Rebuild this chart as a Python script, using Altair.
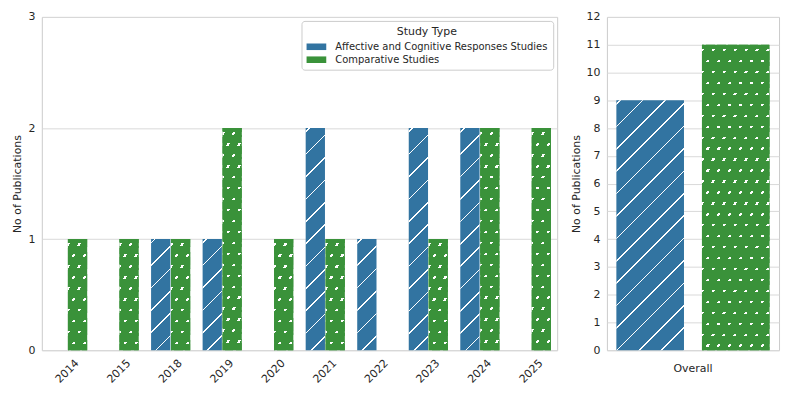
import math
import altair as alt
import pandas as pd

# ---------------- data ----------------
years = ["2014", "2015", "2018", "2019", "2020", "2021", "2022", "2023", "2024", "2025"]
affective = [0, 0, 1, 1, 0, 2, 1, 2, 2, 0]
comparative = [1, 1, 1, 2, 1, 1, 0, 1, 2, 2]
study_types = ["Affective and Cognitive Responses Studies", "Comparative Studies"]
overall_label = ["Overall"]
overall_values = [9, 11]
palette = ["#3274a1", "#3a923a"]

# ---------------- layout / style ----------------
LEFT_W, RIGHT_W, PLOT_H = 518, 173, 335
LEFT_YMAX, RIGHT_YMAX = 3, 12
TXT = "#262626"
CLEAR = "rgba(255,255,255,0)"
FONT = "DejaVu Sans"

L_PI, L_PO, L_OFF_PI = 0.24, 0.12, 0.03
R_PI, R_PO, R_OFF_PI = 0.0, 0.0617, 0.21

rows = []
for yr, a, c in zip(years, affective, comparative):
    if a:
        rows.append({"year": yr, "type": study_types[0], "n": a})
    if c:
        rows.append({"year": yr, "type": study_types[1], "n": c})
left_df = pd.DataFrame(rows)
right_df = pd.DataFrame({"label": overall_label * 2, "type": study_types, "n": overall_values})


def bar_width(total, count, pi, po, off_pi):
    step = total / (count - pi + 2 * po)
    band = step * (1 - pi)
    step2 = band / (2 - off_pi)
    return step2 * (1 - off_pi)


def stripes(w, h, a, b, period, half, line, bg, phase=0.0):
    """Hard-stop linear gradient drawing stripes along a*x + b*y = const (pixels)."""
    corners = [(0.0, 0.0), (1.0, 0.0), (0.0, 1.0), (1.0, 1.0)]
    fv = [a * w * u + b * h * v for u, v in corners]
    fmin, fmax = min(fv), max(fv)
    u0, v0 = corners[fv.index(fmin)]
    span = fmax - fmin
    S = (a * w) ** 2 + (b * h) ** 2
    k = span / S
    x2 = u0 + k * a * w
    y2 = v0 + k * b * h
    stops = [(0.0, bg)]
    n = math.floor((fmin - phase - half) / period)
    while True:
        center = phase + n * period
        lo = (center - half - fmin) / span
        hi = (center + half - fmin) / span
        n += 1
        if hi <= 0:
            continue
        if lo >= 1:
            break
        lo, hi = max(lo, 0.0), min(hi, 1.0)
        stops += [(lo, bg), (lo, line), (hi, line), (hi, bg)]
    stops.append((1.0, bg))
    return alt.LinearGradient(
        gradient="linear", x1=u0, y1=v0, x2=x2, y2=y2,
        stops=[alt.GradientStop(color=col, offset=round(off, 5)) for off, col in stops],
    )


def panel(df, xfield, xscale, xaxis, off_pi, ymax, yvalues, width, barw, legend):
    enc = dict(
        x=alt.X(f"{xfield}:N", scale=xscale, axis=xaxis),
        xOffset=alt.XOffset("type:N", scale=alt.Scale(domain=study_types, paddingInner=off_pi, paddingOuter=0)),
        y=alt.Y("n:Q", scale=alt.Scale(domain=[0, ymax], nice=False),
                axis=alt.Axis(title="No of Publications", values=yvalues, grid=True,
                              labelPadding=7, titlePadding=5)),
    )
    base = alt.Chart(df).mark_bar().encode(
        **enc,
        color=alt.Color("type:N", scale=alt.Scale(domain=study_types, range=palette), legend=legend),
    )
    layers = [base]
    # blue: diagonal hatch
    for val in sorted(df[df["type"] == study_types[0]]["n"].unique()):
        h = val * PLOT_H / ymax
        g = stripes(barw, h, 1.0, 1.0, 22.5, 0.8, "white", CLEAR, phase=4.0)
        layers.append(
            alt.Chart(df).transform_filter(
                f"datum.type == '{study_types[0]}' && datum.n == {val}"
            ).mark_bar(fill=g).encode(**enc)
        )
    # green: staggered dots (horizontal white lines under slanted slits)
    for val in sorted(df[df["type"] == study_types[1]]["n"].unique()):
        h = val * PLOT_H / ymax
        gA = stripes(barw, h, 0.0, 1.0, 11.0, 1.2, "white", CLEAR, phase=5.5)
        gB = stripes(barw, h, 1.0, 0.5, 11.0, 1.3, CLEAR, palette[1], phase=3.0)
        flt = f"datum.type == '{study_types[1]}' && datum.n == {val}"
        layers.append(alt.Chart(df).transform_filter(flt).mark_bar(fill=gA).encode(**enc))
        layers.append(alt.Chart(df).transform_filter(flt).mark_bar(fill=gB).encode(**enc))
    return alt.layer(*layers).properties(width=width, height=PLOT_H)


left_barw = bar_width(LEFT_W, len(years), L_PI, L_PO, L_OFF_PI)
right_barw = bar_width(RIGHT_W, 1, R_PI, R_PO, R_OFF_PI)

legend = alt.Legend(
    title="Study Type", orient="top-right", offset=4,
    titleAnchor="middle", titleAlign="center", titleFontSize=11, titleFontWeight="normal",
    titleColor=TXT, titleFont=FONT, titlePadding=4,
    labelFont=FONT, labelFontSize=10, labelColor=TXT, labelLimit=400, labelOffset=13,
    symbolType="M-1.65,-0.55H1.65V0.55H-1.65Z", symbolSize=144, symbolStrokeWidth=0,
    symbolOffset=4,
    strokeColor="#cccccc", fillColor="white", padding=5, cornerRadius=3, rowPadding=2,
)

left = panel(
    left_df, "year",
    alt.Scale(domain=years, paddingInner=L_PI, paddingOuter=L_PO),
    alt.Axis(title=None, labelAngle=-45, labelAlign="center", labelBaseline="middle",
             labelPadding=21, grid=False),
    L_OFF_PI, LEFT_YMAX, list(range(LEFT_YMAX + 1)), LEFT_W, left_barw, legend,
)

right = panel(
    right_df, "label",
    alt.Scale(domain=overall_label, paddingInner=R_PI, paddingOuter=R_PO),
    alt.Axis(title=None, labelAngle=0, labelAlign="center", labelBaseline="top",
             labelPadding=12, grid=False),
    R_OFF_PI, RIGHT_YMAX, list(range(RIGHT_YMAX + 1)), RIGHT_W, right_barw, None,
)

chart = (
    alt.hconcat(left, right, spacing=11)
    .resolve_scale(color="independent", x="independent", y="independent", xOffset="independent")
    .properties(padding={"left": 3, "top": 1, "right": 5, "bottom": 2}, background="white")
    .configure_view(stroke="#cccccc", strokeWidth=1)
    .configure_axis(
        labelFont=FONT, titleFont=FONT, labelFontSize=11, titleFontSize=11,
        labelColor=TXT, titleColor=TXT, titleFontWeight="normal",
        domain=False, ticks=False, tickSize=0,
        gridColor="#d9d9d9", gridWidth=1,
    )
)

chart.save("out.html", embed_options={"renderer": "svg", "actions": False})
